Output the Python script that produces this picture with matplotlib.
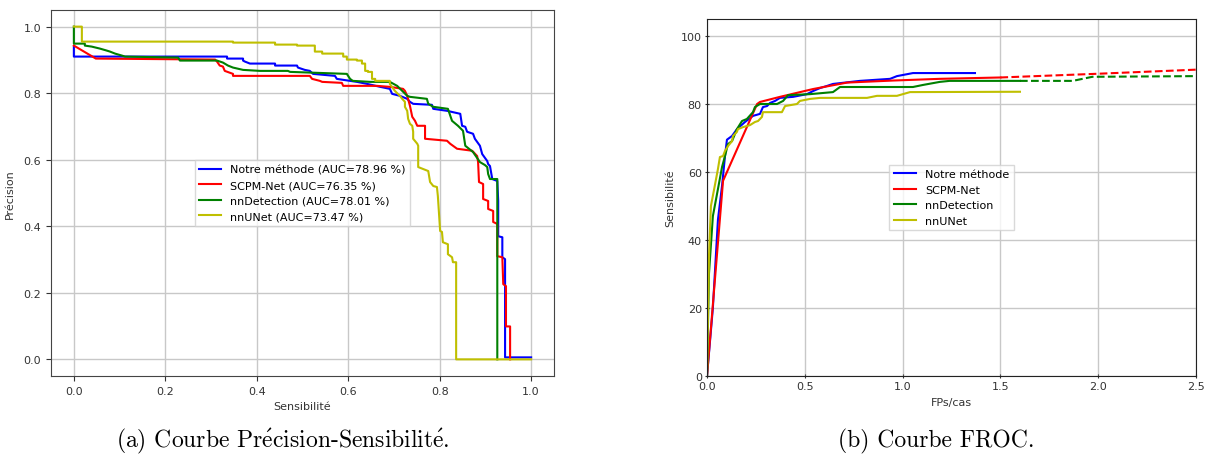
import matplotlib
matplotlib.use("Agg")
import matplotlib.pyplot as plt

plt.rcParams["mathtext.fontset"] = "cm"

# ---------------- Precision-Recall data ----------------
pr_labels = ["Notre méthode (AUC=78.96 %)", "SCPM-Net (AUC=76.35 %)",
             "nnDetection (AUC=78.01 %)", "nnUNet (AUC=73.47 %)"]

notre_rec = [0, 0, 0.335, 0.335, 0.370, 0.370, 0.374, 0.385, 0.440, 0.440, 0.488, 0.490, 0.505, 0.516,
             0.523, 0.571, 0.575, 0.604, 0.619, 0.641, 0.670, 0.691, 0.696, 0.713, 0.729, 0.735, 0.742,
             0.783, 0.786, 0.816, 0.845, 0.849, 0.856, 0.860, 0.873, 0.877, 0.888, 0.893, 0.904, 0.906,
             0.910, 0.915, 0.926, 0.928, 0.928, 0.937, 0.937, 0.943, 0.943, 1.0]
notre_prec = [0.940, 0.910, 0.910, 0.904, 0.904, 0.898, 0.895, 0.889, 0.889, 0.883, 0.883, 0.877, 0.870,
              0.867, 0.858, 0.852, 0.843, 0.837, 0.834, 0.828, 0.819, 0.813, 0.798, 0.792, 0.783, 0.774,
              0.768, 0.765, 0.753, 0.747, 0.738, 0.702, 0.699, 0.684, 0.678, 0.663, 0.642, 0.617, 0.596,
              0.587, 0.581, 0.542, 0.536, 0.476, 0.370, 0.367, 0.307, 0.301, 0.006, 0.006]

scpm_rec = [0, 0.048, 0.309, 0.313, 0.319, 0.326, 0.330, 0.348, 0.348, 0.516, 0.521, 0.538, 0.543, 0.586,
            0.589, 0.663, 0.691, 0.720, 0.724, 0.729, 0.735, 0.740, 0.746, 0.751, 0.768, 0.768, 0.816,
            0.823, 0.829, 0.838, 0.871, 0.882, 0.884, 0.886, 0.895, 0.895, 0.906, 0.906, 0.917, 0.917,
            0.926, 0.926, 0.937, 0.939, 0.945, 0.945, 0.954, 0.954]
scpm_prec = [0.943, 0.904, 0.901, 0.895, 0.883, 0.880, 0.867, 0.858, 0.852, 0.852, 0.843, 0.837, 0.834,
             0.831, 0.822, 0.822, 0.819, 0.813, 0.807, 0.792, 0.762, 0.729, 0.717, 0.702, 0.702, 0.663,
             0.657, 0.648, 0.642, 0.633, 0.627, 0.611, 0.593, 0.533, 0.527, 0.482, 0.476, 0.452, 0.446,
             0.413, 0.407, 0.310, 0.307, 0.226, 0.220, 0.099, 0.099, 0.0]

nndet_rec = [0, 0, 0.024, 0.024, 0.039, 0.057, 0.072, 0.079, 0.090, 0.105, 0.112, 0.228, 0.232, 0.313,
             0.326, 0.337, 0.348, 0.370, 0.407, 0.468, 0.473, 0.597, 0.604, 0.610, 0.648, 0.691, 0.707,
             0.729, 0.735, 0.772, 0.775, 0.786, 0.818, 0.827, 0.840, 0.851, 0.856, 0.873, 0.888, 0.899,
             0.904, 0.906, 0.910, 0.926, 0.926]
nndet_prec = [1.0, 0.949, 0.949, 0.943, 0.940, 0.934, 0.928, 0.925, 0.919, 0.913, 0.910, 0.907, 0.898,
              0.898, 0.892, 0.883, 0.877, 0.870, 0.867, 0.867, 0.864, 0.858, 0.843, 0.837, 0.834, 0.834,
              0.822, 0.792, 0.789, 0.783, 0.768, 0.759, 0.753, 0.717, 0.702, 0.687, 0.642, 0.623, 0.593,
              0.584, 0.578, 0.557, 0.542, 0.542, 0.0]

nnunet_rec = [0, 0.0175, 0.0175, 0.348, 0.348, 0.440, 0.440, 0.488, 0.488, 0.527, 0.527, 0.543, 0.543,
              0.589, 0.589, 0.597, 0.597, 0.619, 0.619, 0.630, 0.630, 0.637, 0.637, 0.643, 0.643, 0.652,
              0.652, 0.659, 0.659, 0.691, 0.691, 0.702, 0.713, 0.718, 0.724, 0.724, 0.729, 0.731, 0.735,
              0.740, 0.742, 0.742, 0.751, 0.753, 0.753, 0.775, 0.779, 0.786, 0.794, 0.796, 0.801, 0.805,
              0.807, 0.818, 0.818, 0.827, 0.829, 0.836, 0.836, 1.0]
nnunet_prec = [1.0, 1.0, 0.955, 0.955, 0.952, 0.952, 0.946, 0.946, 0.943, 0.943, 0.925, 0.925, 0.919,
               0.919, 0.910, 0.910, 0.901, 0.901, 0.898, 0.898, 0.889, 0.889, 0.867, 0.867, 0.864, 0.864,
               0.843, 0.843, 0.837, 0.837, 0.828, 0.807, 0.792, 0.783, 0.774, 0.759, 0.747, 0.723, 0.708,
               0.702, 0.684, 0.663, 0.648, 0.642, 0.578, 0.566, 0.533, 0.521, 0.518, 0.491, 0.386, 0.383,
               0.352, 0.346, 0.316, 0.307, 0.292, 0.292, 0.0, 0.0]

# ---------------- FROC data ----------------
froc_labels = ["Notre méthode", "SCPM-Net", "nnDetection", "nnUNet"]

notre_fp = [0, 0.03, 0.056, 0.077, 0.092, 0.102, 0.128, 0.153, 0.194, 0.235, 0.271, 0.286, 0.307, 0.322,
            0.348, 0.373, 0.44, 0.511, 0.542, 0.578, 0.613, 0.644, 0.782, 0.936, 0.971, 1.053, 1.37]
notre_sens = [0, 20, 46, 56, 64.7, 69.5, 70.6, 72.6, 74.7, 76.5, 77.1, 79.1, 79.4, 80.3,
              80.9, 81.8, 82.1, 82.9, 83.8, 84.7, 85.3, 85.9, 86.8, 87.4, 88.2, 89.1, 89.1]

scpm_fp = [0, 0.082, 0.256, 0.271, 0.373, 0.542, 0.716, 0.951, 1.19, 1.5]
scpm_sens = [0, 57.4, 80.0, 80.6, 82.1, 84.4, 86.3, 86.9, 87.4, 87.8]
scpm_fp_ext = [1.5, 2.0, 2.5]
scpm_sens_ext = [87.8, 88.9, 90.1]

nndet_fp = [0, 0.01, 0.03, 0.056, 0.077, 0.092, 0.107, 0.128, 0.153, 0.179, 0.204, 0.235, 0.245, 0.271,
            0.358, 0.389, 0.414, 0.527, 0.644, 0.680, 1.053, 1.104, 1.19, 1.24, 1.6]
nndet_sens = [0, 30, 47, 55, 61.5, 64.7, 68.2, 69.1, 72.6, 75.0, 75.6, 77.6, 79.1, 80.0,
              80.0, 80.9, 82.6, 82.9, 83.5, 85.0, 85.0, 85.6, 86.5, 86.8, 86.8]
nndet_fp_ext = [1.6, 1.87, 1.97, 2.5]
nndet_sens_ext = [86.8, 86.8, 88.0, 88.2]

nnunet_fp = [0, 0.01, 0.02, 0.04, 0.056, 0.066, 0.082, 0.092, 0.107, 0.128, 0.133, 0.153, 0.158, 0.184,
             0.220, 0.245, 0.261, 0.281, 0.286, 0.383, 0.399, 0.460, 0.475, 0.527, 0.578, 0.818, 0.869,
             0.971, 1.038, 1.6]
nnunet_sens = [0, 35, 50, 56, 60.9, 64.4, 64.7, 66.2, 67.6, 69.1, 70.6, 71.8, 72.6, 73.2,
               73.8, 74.7, 75.0, 76.2, 77.6, 77.6, 79.4, 80.0, 80.9, 81.5, 81.8, 81.8, 82.4,
               82.4, 83.5, 83.6]

caption_a = r"(a) Courbe Pr$\acute{\mathrm{e}}$cision-Sensibilit$\acute{\mathrm{e}}$."
caption_b = "(b) Courbe FROC."

colors = ["#0000ff", "#ff0000", "#008000", "#bfbf00"]

fig = plt.figure(figsize=(12.13, 4.60), dpi=100)
tick_fs = 8
lab_fs = 8

# ---------- Left: precision-recall ----------
ax1 = fig.add_axes([51 / 1213, 83 / 460, 503 / 1213, 366 / 460])
pr_series = [(notre_rec, notre_prec), (scpm_rec, scpm_prec), (nndet_rec, nndet_prec), (nnunet_rec, nnunet_prec)]
for (r, p), c, lab in zip(pr_series, colors, pr_labels):
    ax1.plot(r, p, color=c, lw=1.5, label=lab)
ax1.set_xlim(-0.05, 1.05)
ax1.set_ylim(-0.05, 1.05)
ax1.set_xticks([0, 0.2, 0.4, 0.6, 0.8, 1.0])
ax1.set_yticks([0, 0.2, 0.4, 0.6, 0.8, 1.0])
ax1.grid(True, color="#c8c8c8", lw=1)
ax1.set_axisbelow(True)
ax1.set_xlabel("Sensibilité", fontsize=lab_fs, color="#333333")
ax1.set_ylabel("Précision", fontsize=lab_fs, color="#333333", labelpad=6)
ax1.tick_params(labelsize=tick_fs, colors="#333333")
for s in ax1.spines.values():
    s.set_color("#444444")
leg1 = ax1.legend(loc="center", fontsize=8, frameon=True, fancybox=False)
leg1.get_frame().set_edgecolor("#d0d0d0")

# ---------- Right: FROC ----------
ax2 = fig.add_axes([707 / 1213, 83 / 460, 489 / 1213, 357 / 460])
ax2.plot(notre_fp, notre_sens, color=colors[0], lw=1.5, label=froc_labels[0])
ax2.plot(scpm_fp, scpm_sens, color=colors[1], lw=1.5, label=froc_labels[1])
ax2.plot(scpm_fp_ext, scpm_sens_ext, color=colors[1], lw=1.5, ls="--")
ax2.plot(nndet_fp, nndet_sens, color=colors[2], lw=1.5, label=froc_labels[2])
ax2.plot(nndet_fp_ext, nndet_sens_ext, color=colors[2], lw=1.5, ls="--")
ax2.plot(nnunet_fp, nnunet_sens, color=colors[3], lw=1.5, label=froc_labels[3])
ax2.set_xlim(0, 2.5)
ax2.set_ylim(0, 105)
ax2.set_xticks([0, 0.5, 1.0, 1.5, 2.0, 2.5])
ax2.set_yticks([0, 20, 40, 60, 80, 100])
ax2.grid(True, color="#c8c8c8", lw=1)
ax2.set_axisbelow(True)
ax2.set_xlabel("FPs/cas", fontsize=lab_fs, color="#333333")
ax2.set_ylabel("Sensibilité", fontsize=lab_fs, color="#333333")
ax2.tick_params(labelsize=tick_fs, colors="#333333", direction="inout", pad=2)
for s in ax2.spines.values():
    s.set_color("#222222")
leg2 = ax2.legend(loc="center", fontsize=8, frameon=True, fancybox=False)
leg2.get_frame().set_edgecolor("#d0d0d0")

# ---------- Captions ----------
fig.text(283 / 1213, 0.041, caption_a, ha="center", va="center",
         fontsize=17, family="cmr10")
fig.text(936 / 1213, 0.041, caption_b, ha="center", va="center",
         fontsize=17, family="cmr10")

fig.savefig("out.png", dpi=100)
